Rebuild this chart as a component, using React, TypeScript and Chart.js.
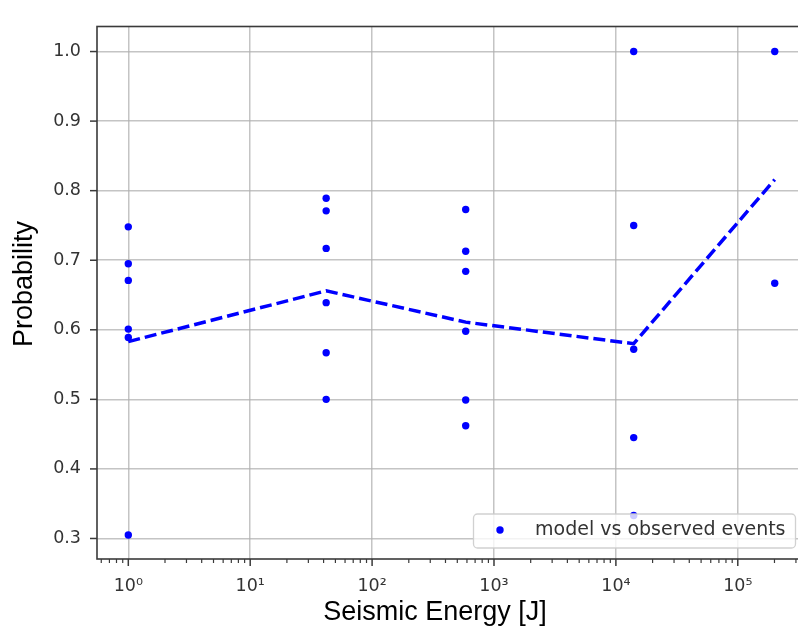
import React, { useEffect, useRef } from 'react';
import { Chart, registerables } from 'chart.js';

Chart.register(...registerables);

// ---- data ----
const GROUP_ENERGY = [1, 42, 586, 14000, 201000];
const GROUP_1_PROB = [0.748, 0.695, 0.671, 0.601, 0.589, 0.305];
const GROUP_2_PROB = [0.789, 0.771, 0.717, 0.639, 0.567, 0.5];
const GROUP_3_PROB = [0.773, 0.713, 0.684, 0.598, 0.499, 0.462];
const GROUP_4_PROB = [1.0, 0.75, 0.572, 0.445, 0.333];
const GROUP_5_PROB = [1.0, 0.667];
const GROUP_PROBS = [GROUP_1_PROB, GROUP_2_PROB, GROUP_3_PROB, GROUP_4_PROB, GROUP_5_PROB];

const MODEL_ENERGY = [1, 42, 586, 14000, 201000];
const MODEL_PROB = [0.583, 0.656, 0.611, 0.58, 0.816];

const Y_TICKS = [0.3, 0.4, 0.5, 0.6, 0.7, 0.8, 0.9, 1.0];
const X_MAJOR_TICKS = [1, 10, 100, 1000, 10000, 100000];
const X_TICK_LABELS = ['10\u2070', '10\u00B9', '10\u00B2', '10\u00B3', '10\u2074', '10\u2075'];

const X_MIN = 0.5536;
const X_MAX = 430000;
const Y_MIN = 0.2705;
const Y_MAX = 1.036;

const LEGEND_LABEL = 'model vs observed events';
const X_TITLE = 'Seismic Energy [J]';
const Y_TITLE = 'Probability';

const BLUE = '#0000ff';
const GRID = 'rgba(176,176,176,0.75)';
const SPINE = '#3a3a3a';
const TICK_FONT = { family: 'DejaVu Sans', size: 17.5 };

const framePlugin = {
  id: 'frame',
  beforeDatasetsDraw(chart: any) {
    const { ctx, chartArea: a, scales } = chart;
    const xs = scales.x;
    const ys = scales.y;
    const seg = (x1: number, y1: number, x2: number, y2: number) => {
      ctx.beginPath();
      ctx.moveTo(x1, y1);
      ctx.lineTo(x2, y2);
      ctx.stroke();
    };
    ctx.save();
    ctx.strokeStyle = SPINE;
    ctx.lineWidth = 1.5;
    Y_TICKS.forEach((v) => {
      const y = ys.getPixelForValue(v);
      seg(a.left - 7, y, a.left, y);
    });
    X_MAJOR_TICKS.forEach((v) => {
      const x = xs.getPixelForValue(v);
      seg(x, a.bottom, x, a.bottom + 7);
    });
    ctx.lineWidth = 1.2;
    for (let e = -1; e <= 6; e++) {
      for (let m = 2; m <= 9; m++) {
        const v = m * Math.pow(10, e);
        if (v < X_MIN || v > X_MAX) continue;
        const x = xs.getPixelForValue(v);
        seg(x, a.bottom, x, a.bottom + 4);
      }
    }
    ctx.lineWidth = 1.6;
    ctx.strokeRect(a.left, a.top, a.right - a.left, a.bottom - a.top);
    ctx.restore();
  },
  afterDraw(chart: any) {
    const { ctx, chartArea: a } = chart;
    ctx.save();
    // legend box
    const lx = a.left + 376.5;
    const ly = a.bottom - 45;
    const lw = 322;
    const lh = 34;
    ctx.beginPath();
    ctx.roundRect(lx, ly, lw, lh, 4);
    ctx.fillStyle = 'rgba(255,255,255,0.8)';
    ctx.fill();
    ctx.strokeStyle = 'rgba(204,204,204,0.9)';
    ctx.lineWidth = 1.3;
    ctx.stroke();
    ctx.beginPath();
    ctx.arc(lx + 26.5, ly + 16, 3.7, 0, Math.PI * 2);
    ctx.fillStyle = BLUE;
    ctx.fill();
    ctx.fillStyle = '#333';
    ctx.font = '19px "DejaVu Sans"';
    ctx.textAlign = 'left';
    ctx.textBaseline = 'middle';
    ctx.fillText(LEGEND_LABEL, lx + 61.5, ly + 16);

    // axis titles
    ctx.fillStyle = '#000';
    ctx.font = '27px "Liberation Sans"';
    ctx.textAlign = 'center';
    ctx.textBaseline = 'alphabetic';
    ctx.fillText(X_TITLE, 435, 620);
    ctx.translate(32, 284);
    ctx.rotate(-Math.PI / 2);
    ctx.fillText(Y_TITLE, 0, 0);
    ctx.restore();
  },
};

export default function App() {
  const ref = useRef<HTMLCanvasElement>(null);

  useEffect(() => {
    const canvas = ref.current!;
    const eventPoints: { x: number; y: number }[] = [];
    GROUP_PROBS.forEach((probs, gi) => {
      probs.forEach((p) => eventPoints.push({ x: GROUP_ENERGY[gi], y: p }));
    });
    const modelPoints = MODEL_ENERGY.map((e, i) => ({ x: e, y: MODEL_PROB[i] }));

    const chart = new Chart(canvas, {
      type: 'scatter',
      data: {
        datasets: [
          {
            label: LEGEND_LABEL,
            data: eventPoints,
            backgroundColor: BLUE,
            borderColor: BLUE,
            pointRadius: 3.7,
            pointHoverRadius: 3.7,
            pointBorderWidth: 0,
            showLine: false,
          },
          {
            label: 'model',
            data: modelPoints,
            showLine: true,
            borderColor: BLUE,
            backgroundColor: BLUE,
            borderWidth: 3.5,
            borderDash: [12, 5],
            pointRadius: 0,
            pointHoverRadius: 0,
            fill: false,
            tension: 0,
          },
        ],
      },
      options: {
        responsive: false,
        animation: false,
        events: [],
        layout: { padding: { left: 0, top: 7, right: 15, bottom: 0 } },
        plugins: {
          legend: { display: false },
          tooltip: { enabled: false },
          title: { display: false },
        },
        scales: {
          x: {
            type: 'logarithmic',
            position: 'bottom',
            min: X_MIN,
            max: X_MAX,
            bounds: 'data',
            afterBuildTicks: (s: any) => {
              s.ticks = X_MAJOR_TICKS.map((v) => ({ value: v }));
            },
            afterFit: (s: any) => {
              s.height = 73;
            },
            ticks: {
              autoSkip: false,
              maxRotation: 0,
              minRotation: 0,
              padding: 17,
              font: TICK_FONT,
              color: '#333',
              callback: (_v: any, i: number) => X_TICK_LABELS[i],
            },
            grid: { color: GRID, lineWidth: 1.5, drawTicks: false },
            border: { display: false },
            title: { display: false },
          },
          y: {
            type: 'linear',
            position: 'left',
            min: Y_MIN,
            max: Y_MAX,
            bounds: 'data',
            afterBuildTicks: (s: any) => {
              s.ticks = Y_TICKS.map((v) => ({ value: v }));
            },
            afterFit: (s: any) => {
              s.width = 97;
            },
            ticks: {
              autoSkip: false,
              padding: 16,
              font: TICK_FONT,
              color: '#333',
              callback: (v: any) => Number(v).toFixed(1),
            },
            grid: { color: GRID, lineWidth: 1.5, drawTicks: false },
            border: { display: false },
            title: { display: false },
          },
        },
      },
      plugins: [framePlugin],
    } as any);

    return () => chart.destroy();
  }, []);

  return (
    <div
      style={{
        position: 'absolute',
        left: 0,
        top: 0,
        width: 798,
        height: 632,
        overflow: 'hidden',
        background: '#fff',
      }}
    >
      <canvas ref={ref} width={830} height={632} style={{ display: 'block', width: 830, height: 632 }} />
    </div>
  );
}
